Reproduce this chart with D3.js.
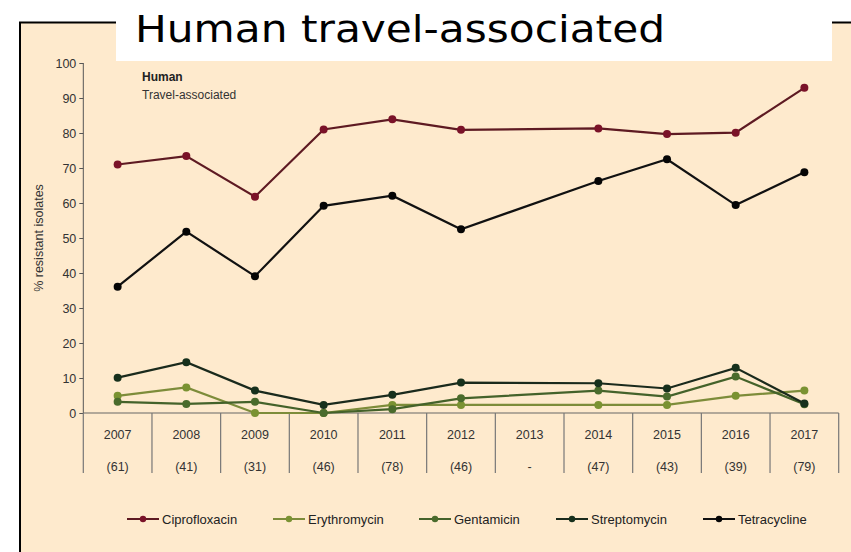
<!DOCTYPE html>
<html><head><meta charset="utf-8">
<script src="https://cdn.jsdelivr.net/npm/d3@7"></script>
<style>body{margin:0;background:#fff}svg{display:block}</style>
</head><body>
<svg id="c" width="851" height="552"></svg>
<script>
const years = ["2007","2008","2009","2010","2011","2012","2013","2014","2015","2016","2017"];
const counts = ["(61)","(41)","(31)","(46)","(78)","(46)","-","(47)","(43)","(39)","(79)"];
const yTicks = [0,10,20,30,40,50,60,70,80,90,100];
const seriesNames = ["Ciprofloxacin","Erythromycin","Gentamicin","Streptomycin","Tetracycline"];
const ciprofloxacin = [71.0,73.4,61.8,81.0,83.9,80.9,null,81.3,79.7,80.1,92.9];
const erythromycin  = [4.9,7.3,0.0,0.0,2.3,2.3,null,2.3,2.3,4.9,6.4];
const gentamicin    = [3.2,2.6,3.2,0.0,1.1,4.2,null,6.4,4.7,10.4,2.5];
const streptomycin  = [10.1,14.5,6.4,2.3,5.2,8.7,null,8.5,7.0,12.9,2.7];
const tetracycline  = [36.1,51.8,39.1,59.2,62.1,52.5,null,66.3,72.5,59.4,68.8];
const seriesValues = [ciprofloxacin,erythromycin,gentamicin,streptomycin,tetracycline];
const lineColors = ["#5e1a22","#7d8c3a","#44622a","#1a2a1c","#111111"];
const dotColors  = ["#7a1228","#7a9232","#4a6b2c","#16301c","#050505"];

const svg = d3.select("#c");
const FONT = "'Liberation Sans', Arial, sans-serif";

// frame
svg.append("rect").attr("x",20).attr("y",23).attr("width",831).attr("height",529).attr("fill","#feeacd");
svg.append("line").attr("x1",19).attr("x2",851).attr("y1",22.5).attr("y2",22.5).attr("stroke","#000").attr("stroke-width",2);
svg.append("line").attr("x1",20).attr("x2",20).attr("y1",22).attr("y2",552).attr("stroke","#000").attr("stroke-width",2);
svg.append("rect").attr("x",116).attr("y",0).attr("width",716).attr("height",61).attr("fill","#fff");
svg.append("text").attr("x",135).attr("y",42).attr("font-family","'DejaVu Sans', Verdana, sans-serif")
  .attr("font-size",38).attr("textLength",530).attr("lengthAdjust","spacingAndGlyphs")
  .attr("fill","#000").text("Human travel-associated");

const x = d3.scaleBand().domain(years).range([83.3,838.7]).padding(0);
const y = d3.scaleLinear().domain([0,100]).range([413,63]);

// y axis
const yAxis = d3.axisLeft(y).tickValues(yTicks).tickSize(4).tickPadding(3);
const gy = svg.append("g").attr("transform","translate(83.3,0)").call(yAxis);
gy.selectAll("path,line").attr("stroke","#555");
gy.selectAll("text").attr("font-family",FONT).attr("font-size",12.5).attr("fill","#333");
gy.select(".domain").attr("d","M0,"+y(100)+"V"+y(0));

svg.append("text").attr("transform","translate(43,238) rotate(-90)").attr("text-anchor","middle")
  .attr("font-family",FONT).attr("font-size",12.5).attr("fill","#333").text("% resistant isolates");

// x axis with category table
svg.append("line").attr("x1",83.3).attr("x2",838.7).attr("y1",y(0)).attr("y2",y(0)).attr("stroke","#666").attr("stroke-width",1.2);
const edges = years.map(d=>x(d)).concat([x(years[years.length-1])+x.bandwidth()]);
svg.selectAll(".sep").data(edges).enter().append("line")
  .attr("x1",d=>d).attr("x2",d=>d).attr("y1",y(0)).attr("y2",473).attr("stroke","#777").attr("stroke-width",1.2);
svg.selectAll(".yr").data(years).enter().append("text")
  .attr("x",d=>x(d)+x.bandwidth()/2).attr("y",439).attr("text-anchor","middle")
  .attr("font-family",FONT).attr("font-size",12.5).attr("fill","#333").text(d=>d);
svg.selectAll(".ct").data(counts).enter().append("text")
  .attr("x",(d,i)=>x(years[i])+x.bandwidth()/2).attr("y",471).attr("text-anchor","middle")
  .attr("font-family",FONT).attr("font-size",12.5).attr("fill","#333").text(d=>d);

// inner label
svg.append("text").attr("x",142).attr("y",81).attr("font-family",FONT).attr("font-size",12).attr("font-weight","bold").attr("fill","#222").text("Human");
svg.append("text").attr("x",142).attr("y",99).attr("font-family",FONT).attr("font-size",12).attr("fill","#333").text("Travel-associated");

// lines
const line = d3.line().x(d=>x(d.year)+x.bandwidth()/2).y(d=>y(d.v));
seriesValues.forEach((vals,i)=>{
  const pts = vals.map((v,j)=>({year:years[j],v})).filter(d=>d.v!==null);
  svg.append("path").datum(pts).attr("d",line).attr("fill","none").attr("stroke",lineColors[i]).attr("stroke-width",2.2);
  svg.selectAll(null).data(pts).enter().append("circle")
    .attr("cx",d=>x(d.year)+x.bandwidth()/2).attr("cy",d=>y(d.v)).attr("r",4).attr("fill",dotColors[i]);
});

// legend
const legX = [127,273,419,556,703];
const lg = svg.append("g");
seriesNames.forEach((n,i)=>{
  lg.append("line").attr("x1",legX[i]).attr("x2",legX[i]+32).attr("y1",519).attr("y2",519).attr("stroke",lineColors[i]).attr("stroke-width",2);
  lg.append("circle").attr("cx",legX[i]+16).attr("cy",519).attr("r",3.2).attr("fill",dotColors[i]);
  lg.append("text").attr("x",legX[i]+35).attr("y",523.5).attr("font-family",FONT).attr("font-size",13).attr("fill","#222").text(n);
});
</script>
</body></html>
